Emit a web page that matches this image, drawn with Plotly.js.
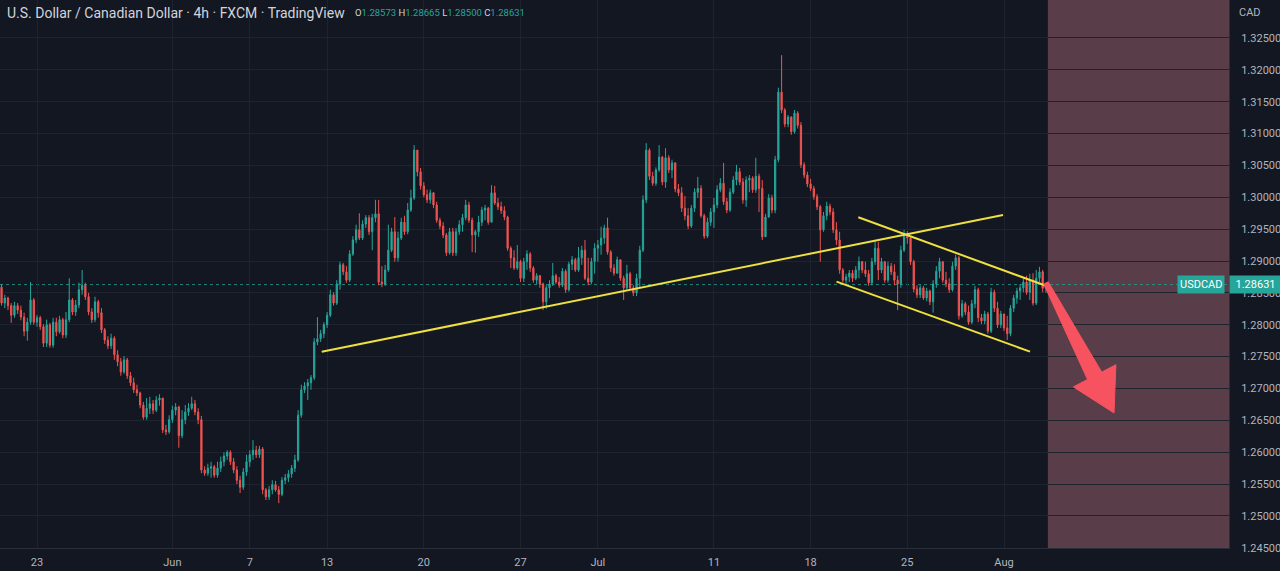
<!DOCTYPE html>
<html>
<head>
<meta charset="utf-8">
<script src="https://cdn.plot.ly/plotly-3.0.1.min.js"></script>
<style>
html,body{margin:0;padding:0;background:#131722;overflow:hidden;}
#chart{width:1280px;height:571px;}
</style>
</head>
<body>
<div id="chart"></div>
<script>
// 4h USDCAD candles, index 0 = first candle of May 23 (one unit = one 4h candle)
const firstIndex = -11;
const firstOpen = 1.2859;
const closes = [
1.2834,1.2842,1.2830,1.2815,1.2830,1.2823,1.2812,1.2790,1.2804,1.2839,
1.2804,1.2811,1.2797,1.2771,1.2800,1.2768,1.2804,1.2789,1.2808,1.2784,
1.2808,1.2839,1.2820,1.2831,1.2855,1.2862,1.2844,1.2820,1.2808,1.2836,
1.2819,1.2792,1.2776,1.2767,1.2779,1.2753,1.2742,1.2726,1.2745,1.2720,
1.2709,1.2698,1.2693,1.2674,1.2655,1.2669,1.2676,1.2666,1.2682,1.2685,
1.2635,1.2632,1.2651,1.2666,1.2671,1.2626,1.2651,1.2663,1.2669,1.2676,
1.2663,1.2651,1.2572,1.2567,1.2575,1.2577,1.2564,1.2575,1.2585,1.2594,
1.2600,1.2585,1.2572,1.2556,1.2545,1.2569,1.2585,1.2596,1.2603,1.2596,
1.2605,1.2541,1.2530,1.2541,1.2549,1.2541,1.2534,1.2556,1.2560,1.2566,
1.2575,1.2588,1.2658,1.2698,1.2704,1.2709,1.2717,1.2773,1.2778,1.2786,
1.2800,1.2815,1.2847,1.2834,1.2864,1.2894,1.2883,1.2870,1.2911,1.2933,
1.2949,1.2936,1.2958,1.2968,1.2946,1.2968,1.2974,1.2867,1.2864,1.2886,
1.2917,1.2946,1.2905,1.2936,1.2961,1.2946,1.2980,1.2999,1.3074,1.3040,
1.3018,1.3004,1.2996,1.3007,1.2988,1.2964,1.2955,1.2941,1.2913,1.2946,
1.2913,1.2946,1.2957,1.2968,1.2988,1.2964,1.2941,1.2946,1.2961,1.2980,
1.2983,1.2961,1.3007,1.2991,1.2985,1.2979,1.2969,1.2920,1.2905,1.2889,
1.2899,1.2873,1.2899,1.2911,1.2889,1.2870,1.2877,1.2864,1.2836,1.2858,
1.2864,1.2877,1.2867,1.2862,1.2884,1.2855,1.2895,1.2902,1.2886,1.2905,
1.2917,1.2873,1.2867,1.2899,1.2920,1.2925,1.2936,1.2952,1.2914,1.2889,
1.2881,1.2902,1.2873,1.2858,1.2880,1.2858,1.2850,1.2873,1.2917,1.2996,
1.3074,1.3033,1.3022,1.3043,1.3063,1.3024,1.3062,1.3043,1.3054,1.3013,
1.3007,1.2983,1.2971,1.2955,1.2983,1.3008,1.3014,1.2971,1.2939,1.2961,
1.2977,1.2988,1.3012,1.3022,1.2993,1.2980,1.3008,1.3027,1.3040,1.3024,
1.2996,1.3027,1.3030,1.3012,1.3033,1.3014,1.2938,1.2969,1.2999,1.2980,
1.3059,1.3165,1.3137,1.3115,1.3126,1.3103,1.3132,1.3113,1.3051,1.3035,
1.3021,1.3014,1.3001,1.2985,1.2949,1.2971,1.2986,1.2977,1.2949,1.2933,
1.2886,1.2870,1.2875,1.2881,1.2873,1.2886,1.2899,1.2886,1.2880,1.2866,
1.2899,1.2920,1.2886,1.2899,1.2870,1.2892,1.2883,1.2870,1.2864,1.2917,
1.2942,1.2936,1.2899,1.2856,1.2847,1.2858,1.2842,1.2853,1.2836,1.2864,
1.2884,1.2899,1.2870,1.2864,1.2855,1.2892,1.2905,1.2814,1.2833,1.2820,
1.2804,1.2833,1.2855,1.2811,1.2806,1.2817,1.2790,1.2851,1.2826,1.2800,
1.2817,1.2795,1.2786,1.2826,1.2842,1.2853,1.2858,1.2867,1.2851,1.2870,
1.2834,1.2873,1.2883,1.28573,1.28631
];
const highs = [
1.2864,1.2847,1.2844,1.2834,1.2836,1.2834,1.2830,1.2819,1.2811,1.2867,
1.2842,1.2815,1.2814,1.2801,1.2808,1.2803,1.2811,1.2811,1.2814,1.2811,
1.2820,1.2873,1.2842,1.2839,1.2866,1.2886,1.2866,1.2850,1.2826,1.2844,
1.2839,1.2826,1.2795,1.2782,1.2786,1.2782,1.2760,1.2748,1.2751,1.2748,
1.2726,1.2717,1.2706,1.2695,1.2679,1.2685,1.2687,1.2682,1.2688,1.2691,
1.2685,1.2643,1.2658,1.2673,1.2677,1.2673,1.2666,1.2674,1.2677,1.2687,
1.2682,1.2669,1.2657,1.2578,1.2582,1.2585,1.2580,1.2585,1.2593,1.2600,
1.2603,1.2603,1.2591,1.2578,1.2563,1.2575,1.2596,1.2603,1.2619,1.2610,
1.2610,1.2608,1.2544,1.2547,1.2556,1.2555,1.2547,1.2561,1.2566,1.2572,
1.2580,1.2596,1.2666,1.2706,1.2710,1.2715,1.2721,1.2779,1.2812,1.2792,
1.2804,1.2820,1.2855,1.2851,1.2870,1.2899,1.2897,1.2892,1.2917,1.2939,
1.2957,1.2975,1.2964,1.2972,1.2972,1.2974,1.2996,1.2996,1.2892,1.2894,
1.2957,1.2952,1.2969,1.2946,1.2968,1.2971,1.2991,1.3012,1.3082,1.3074,
1.3046,1.3024,1.3012,1.3012,1.3008,1.2993,1.2968,1.2961,1.2944,1.2952,
1.2952,1.2952,1.2964,1.2974,1.2996,1.2993,1.2968,1.2949,1.2971,1.2985,
1.2988,1.2985,1.3019,1.3018,1.2999,1.2993,1.2986,1.2971,1.2923,1.2917,
1.2925,1.2902,1.2905,1.2917,1.2914,1.2892,1.2881,1.2878,1.2866,1.2862,
1.2870,1.2897,1.2880,1.2875,1.2889,1.2887,1.2899,1.2908,1.2905,1.2922,
1.2924,1.2933,1.2905,1.2905,1.2928,1.2933,1.2954,1.2957,1.2968,1.2917,
1.2895,1.2907,1.2899,1.2877,1.2894,1.2883,1.2862,1.2880,1.2924,1.3003,
1.3085,1.3077,1.3040,1.3047,1.3082,1.3065,1.3077,1.3066,1.3059,1.3055,
1.3021,1.3016,1.3002,1.2983,1.2988,1.3014,1.3032,1.3019,1.2974,1.2968,
1.2983,1.2999,1.3019,1.3030,1.3054,1.2999,1.3014,1.3033,1.3051,1.3046,
1.3030,1.3033,1.3035,1.3033,1.3062,1.3037,1.3027,1.2974,1.3005,1.3004,
1.3065,1.3172,1.3223,1.3140,1.3129,1.3127,1.3137,1.3135,1.3118,1.3055,
1.3040,1.3029,1.3018,1.3005,1.2988,1.2977,1.2993,1.2990,1.2983,1.2961,
1.2946,1.2889,1.2880,1.2886,1.2886,1.2892,1.2907,1.2900,1.2899,1.2886,
1.2905,1.2933,1.2930,1.2905,1.2899,1.2899,1.2897,1.2895,1.2877,1.2924,
1.2949,1.2947,1.2939,1.2902,1.2862,1.2862,1.2861,1.2858,1.2855,1.2870,
1.2892,1.2905,1.2899,1.2883,1.2873,1.2899,1.2910,1.2908,1.2839,1.2836,
1.2830,1.2839,1.2861,1.2858,1.2817,1.2822,1.2820,1.2858,1.2855,1.2836,
1.2822,1.2811,1.2814,1.2831,1.2847,1.2858,1.2864,1.2873,1.2877,1.2880,
1.2881,1.2886,1.2891,1.2886,1.28665
];
const lows = [
1.2830,1.2826,1.2823,1.2803,1.2811,1.2817,1.2807,1.2782,1.2775,1.2800,
1.2800,1.2797,1.2792,1.2765,1.2765,1.2764,1.2764,1.2782,1.2786,1.2779,
1.2779,1.2804,1.2815,1.2814,1.2826,1.2847,1.2839,1.2815,1.2803,1.2804,
1.2811,1.2787,1.2770,1.2762,1.2762,1.2745,1.2735,1.2720,1.2723,1.2715,
1.2704,1.2693,1.2688,1.2669,1.2651,1.2651,1.2660,1.2660,1.2663,1.2673,
1.2630,1.2627,1.2629,1.2646,1.2658,1.2607,1.2622,1.2644,1.2657,1.2666,
1.2658,1.2644,1.2567,1.2563,1.2563,1.2560,1.2560,1.2560,1.2569,1.2578,
1.2588,1.2580,1.2567,1.2550,1.2536,1.2541,1.2563,1.2577,1.2588,1.2591,
1.2591,1.2534,1.2525,1.2525,1.2534,1.2538,1.2520,1.2531,1.2550,1.2553,
1.2560,1.2569,1.2585,1.2654,1.2693,1.2682,1.2698,1.2713,1.2768,1.2773,
1.2779,1.2795,1.2812,1.2830,1.2831,1.2855,1.2878,1.2866,1.2867,1.2908,
1.2928,1.2933,1.2933,1.2952,1.2941,1.2917,1.2961,1.2862,1.2859,1.2861,
1.2883,1.2914,1.2899,1.2899,1.2933,1.2941,1.2942,1.2977,1.2996,1.3033,
1.3012,1.3000,1.2991,1.2990,1.2983,1.2960,1.2950,1.2936,1.2908,1.2910,
1.2908,1.2908,1.2941,1.2946,1.2964,1.2960,1.2914,1.2913,1.2938,1.2955,
1.2964,1.2957,1.2964,1.2988,1.2980,1.2974,1.2964,1.2916,1.2889,1.2886,
1.2886,1.2867,1.2867,1.2886,1.2883,1.2866,1.2864,1.2858,1.2823,1.2825,
1.2842,1.2861,1.2864,1.2858,1.2859,1.2850,1.2852,1.2886,1.2883,1.2883,
1.2894,1.2870,1.2862,1.2864,1.2880,1.2899,1.2910,1.2927,1.2910,1.2883,
1.2877,1.2880,1.2869,1.2839,1.2855,1.2855,1.2845,1.2845,1.2858,1.2914,
1.2991,1.3027,1.3018,1.3018,1.3040,1.3019,1.3015,1.3038,1.3030,1.3008,
1.3002,1.2977,1.2964,1.2950,1.2952,1.2977,1.2999,1.2968,1.2935,1.2936,
1.2955,1.2952,1.2983,1.3008,1.2988,1.2975,1.2977,1.3005,1.3019,1.3019,
1.2990,1.2985,1.3008,1.3007,1.3007,1.2977,1.2933,1.2942,1.2968,1.2975,
1.2975,1.3055,1.3132,1.3110,1.3110,1.3098,1.3100,1.3108,1.3046,1.3030,
1.3016,1.3010,1.2996,1.2980,1.2899,1.2946,1.2964,1.2972,1.2944,1.2925,
1.2880,1.2866,1.2864,1.2867,1.2867,1.2870,1.2873,1.2881,1.2875,1.2861,
1.2862,1.2894,1.2870,1.2881,1.2866,1.2866,1.2878,1.2862,1.2823,1.2858,
1.2914,1.2927,1.2894,1.2851,1.2842,1.2842,1.2839,1.2837,1.2831,1.2819,
1.2858,1.2873,1.2866,1.2859,1.2850,1.2852,1.2886,1.2808,1.2811,1.2815,
1.2800,1.2801,1.2826,1.2804,1.2801,1.2801,1.2786,1.2787,1.2820,1.2795,
1.2795,1.2790,1.2776,1.2782,1.2820,1.2833,1.2839,1.2851,1.2847,1.2839,
1.2830,1.2831,1.2867,1.2851,1.28500
];

// date tick labels (candle index of first candle of that day)
const tickIndex = [0, 42, 66, 90, 120, 150, 174, 210, 240, 270, 300];
const tickText = ['23', 'Jun', '7', '13', '20', '27', 'Jul', '11', '18', '25', 'Aug'];
const priceTicks = [1.245,1.250,1.255,1.260,1.265,1.270,1.275,1.280,1.285,1.290,1.295,1.300,1.305,1.310,1.315,1.320,1.325];

const lastPrice = 1.28631;
const ohlcLast = {o: '1.28573', h: '1.28665', l: '1.28500', c: '1.28631'};

// drawings (candle index, price)
const trendStartK = [88.33, 254.80, 248.04];
const trendStartP = [1.27578, 1.29686, 1.28676];
const trendEndK   = [299.69, 313.65, 308.07];
const trendEndP   = [1.29722, 1.28600, 1.27578];
const zoneStartK = 313.6;
const arrowK = [313.72, 330.31, 334.72, 334.13, 321.50, 325.91, 312.35];
const arrowP = [1.28674, 1.27257, 1.27374, 1.26616, 1.27025, 1.27141, 1.28637];

const xRange = [-11.48, 369.8];
const yRange = [1.24497, 1.33096];

// build
const n = closes.length;
const xs = [], opens = [], hi = [], lo = [];
for (let i = 0; i < n; i++) {
  xs.push(firstIndex + i);
  const o = i === 0 ? firstOpen : closes[i - 1];
  opens.push(o);
  hi.push(Math.max(highs[i], o, closes[i]));
  lo.push(Math.min(lows[i], o, closes[i]));
}

const GREEN = '#26a69a', RED = '#ef5350', YELLOW = '#eee03f';
const trace = {
  type: 'candlestick', x: xs, open: opens, high: hi, low: lo, close: closes,
  increasing: {line: {color: GREEN, width: 1}, fillcolor: GREEN},
  decreasing: {line: {color: RED, width: 1}, fillcolor: RED},
  whiskerwidth: 0, hoverinfo: 'none', showlegend: false
};

const shapes = [];
shapes.push({type: 'rect', xref: 'x', yref: 'paper', x0: zoneStartK, x1: xRange[1], y0: 0, y1: 1,
  fillcolor: 'rgba(196,120,129,0.40)', line: {width: 0}, layer: 'below'});
shapes.push({type: 'line', xref: 'paper', yref: 'y', x0: 0, x1: 1, y0: lastPrice, y1: lastPrice,
  line: {color: 'rgba(38,166,154,0.75)', width: 1, dash: 'dot'}, layer: 'below'});
for (let i = 0; i < trendStartK.length; i++) {
  shapes.push({type: 'line', xref: 'x', yref: 'y', x0: trendStartK[i], y0: trendStartP[i], x1: trendEndK[i], y1: trendEndP[i],
    line: {color: YELLOW, width: 2}, layer: 'above'});
}
let path = '';
for (let i = 0; i < arrowK.length; i++) path += (i === 0 ? 'M' : 'L') + arrowK[i] + ',' + arrowP[i] + ' ';
path += 'Z';
shapes.push({type: 'path', xref: 'x', yref: 'y', path: path, fillcolor: '#f7525f', line: {color: '#f7525f', width: 1}, layer: 'above'});

const FONT = 'Roboto, "Liberation Sans", Arial, sans-serif';
const annotations = [
  {xref: 'paper', yref: 'paper', x: 0, y: 1, xanchor: 'left', yanchor: 'top', xshift: 5, yshift: -3,
   text: 'U.S. Dollar / Canadian Dollar · 4h · FXCM · TradingView', showarrow: false,
   font: {family: FONT, size: 14, color: '#d1d4dc'}},
  {xref: 'paper', yref: 'paper', x: 353 / 1229, y: 1, xanchor: 'left', yanchor: 'top', yshift: -5,
   text: 'O<span style="color:' + GREEN + '">' + ohlcLast.o + '</span> H<span style="color:' + GREEN + '">' + ohlcLast.h +
         '</span> L<span style="color:' + GREEN + '">' + ohlcLast.l + '</span> C<span style="color:' + GREEN + '">' + ohlcLast.c + '</span>',
   showarrow: false, font: {family: FONT, size: 9.5, color: '#d1d4dc'}},
  {xref: 'paper', yref: 'paper', x: 1, y: 1, xanchor: 'left', yanchor: 'top', xshift: 8, yshift: -4,
   text: 'CAD', showarrow: false, font: {family: FONT, size: 11, color: '#b2b5be'}},
  {xref: 'paper', yref: 'y', x: 1, y: lastPrice, xanchor: 'right', yanchor: 'middle', xshift: -4,
   text: 'USDCAD', showarrow: false, bgcolor: GREEN, borderpad: 2, font: {family: FONT, size: 11, color: '#ffffff'}},
  {xref: 'paper', yref: 'y', x: 1, y: lastPrice, xanchor: 'left', yanchor: 'middle', xshift: 0,
   text: lastPrice.toFixed(5), showarrow: false, bgcolor: GREEN, borderpad: 2, width: 47, align: 'center',
   font: {family: FONT, size: 11, color: '#ffffff'}}
];

const layout = {
  width: 1280, height: 571,
  paper_bgcolor: '#131722', plot_bgcolor: '#131722',
  margin: {l: 0, r: 51, t: 0, b: 23, pad: 0},
  font: {family: FONT, size: 11, color: '#b2b5be'},
  showlegend: false, boxgap: 0.45, hovermode: false, dragmode: false,
  xaxis: {type: 'linear', range: xRange, tickmode: 'array', tickvals: tickIndex, ticktext: tickText,
    showgrid: true, gridcolor: '#1f2330', gridwidth: 1, zeroline: false, showline: true, linecolor: '#2a2e39',
    ticks: '', ticklabelstandoff: 4, tickfont: {family: FONT, size: 11, color: '#b2b5be'},
    rangeslider: {visible: false}, fixedrange: true},
  yaxis: {side: 'right', range: yRange, tickmode: 'array', tickvals: priceTicks,
    ticktext: priceTicks.map(v => v.toFixed(5)),
    showgrid: true, gridcolor: '#1f2330', gridwidth: 1, zeroline: false, showline: true, linecolor: '#2a2e39',
    ticks: '', ticklabelstandoff: 9, tickfont: {family: FONT, size: 11, color: '#b2b5be'}, fixedrange: true},
  shapes: shapes,
  annotations: annotations
};

Plotly.newPlot('chart', [trace], layout, {displayModeBar: false, staticPlot: true});
</script>
</body>
</html>
